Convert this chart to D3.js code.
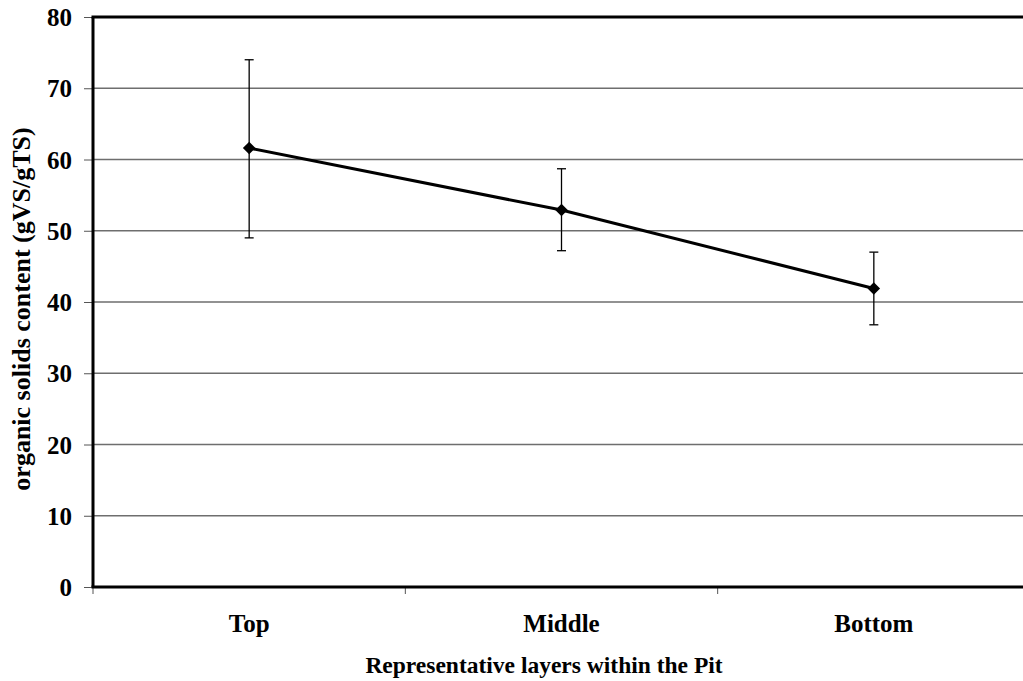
<!DOCTYPE html>
<html>
<head>
<meta charset="utf-8">
<script src="https://cdn.jsdelivr.net/npm/d3@7"></script>
<style>
  body { margin: 0; background: #fff; }
  text { font-family: "Liberation Serif", "Times New Roman", serif; font-weight: bold; fill: #000; }
</style>
</head>
<body>
<div id="viz"></div>
<script>
const layers = ['Top', 'Middle', 'Bottom'];
const means = [61.6, 52.9, 41.9];
const errHigh = [74.0, 58.7, 47.0];
const errLow = [49.0, 47.2, 36.8];
const yTicks = [0, 10, 20, 30, 40, 50, 60, 70, 80];

const W = 1023, H = 681;
const margin = { top: 17, right: -7, bottom: 94, left: 93 };
const width = W - margin.left - margin.right;
const height = H - margin.top - margin.bottom;

const svg = d3.select('#viz').append('svg')
  .attr('width', W).attr('height', H);
const g = svg.append('g').attr('transform', `translate(${margin.left},${margin.top})`);

const x = d3.scaleBand().domain(layers).range([0, width]);
const y = d3.scaleLinear().domain([0, 80]).range([height, 0]);

// gridlines
g.selectAll('line.grid')
  .data(yTicks.filter(d => d > 0 && d < 80))
  .join('line')
  .attr('class', 'grid')
  .attr('x1', 0).attr('x2', width)
  .attr('y1', d => y(d)).attr('y2', d => y(d))
  .attr('stroke', '#6e6e6e').attr('stroke-width', 1.3);

// y axis
const yAxis = g.append('g')
  .call(d3.axisLeft(y).tickValues(yTicks).tickSize(9).tickPadding(12));
yAxis.select('.domain').remove();
yAxis.selectAll('line').attr('stroke', '#555');
yAxis.selectAll('text').style('font-size', '25px').attr('dy', '0.34em');

// x axis
const xAxis = g.append('g')
  .attr('transform', `translate(0,${height})`)
  .call(d3.axisBottom(x).tickSize(0).tickPadding(0));
xAxis.select('.domain').remove();
xAxis.selectAll('text').style('font-size', '25px').attr('dy', null).attr('y', 45);
g.selectAll('line.xtick')
  .data(layers)
  .join('line')
  .attr('class', 'xtick')
  .attr('x1', d => x(d)).attr('x2', d => x(d))
  .attr('y1', height).attr('y2', height + 7)
  .attr('stroke', '#555');

// frame
g.append('line').attr('x1', 0).attr('x2', 0).attr('y1', 0).attr('y2', height)
  .attr('stroke', '#000').attr('stroke-width', 3);
g.append('line').attr('x1', -1.5).attr('x2', width).attr('y1', height).attr('y2', height)
  .attr('stroke', '#000').attr('stroke-width', 3);
g.append('line').attr('x1', -1.5).attr('x2', width).attr('y1', 0).attr('y2', 0)
  .attr('stroke', '#000').attr('stroke-width', 3);

const cx = d => x(d) + x.bandwidth() / 2;

// error bars
layers.forEach((d, i) => {
  g.append('line')
    .attr('x1', cx(d)).attr('x2', cx(d))
    .attr('y1', y(errHigh[i])).attr('y2', y(errLow[i]))
    .attr('stroke', '#000').attr('stroke-width', 1.3);
  [errHigh[i], errLow[i]].forEach(v => {
    g.append('line')
      .attr('x1', cx(d) - 4.5).attr('x2', cx(d) + 4.5)
      .attr('y1', y(v)).attr('y2', y(v))
      .attr('stroke', '#000').attr('stroke-width', 1.3);
  });
});

// line
g.append('path')
  .datum(layers.map((d, i) => [cx(d), y(means[i])]))
  .attr('d', d3.line())
  .attr('fill', 'none').attr('stroke', '#000').attr('stroke-width', 3);

// markers
g.selectAll('path.marker')
  .data(layers)
  .join('path')
  .attr('class', 'marker')
  .attr('transform', (d, i) => `translate(${cx(d)},${y(means[i])})`)
  .attr('d', d3.symbol().type(d3.symbolDiamond2).size(100))
  .attr('fill', '#000');

// axis titles
svg.append('text')
  .attr('x', 544).attr('y', 673)
  .attr('text-anchor', 'middle')
  .style('font-size', '23.5px')
  .text('Representative layers within the Pit');

svg.append('text')
  .attr('transform', `translate(30,309) rotate(-90)`)
  .attr('text-anchor', 'middle')
  .style('font-size', '26px')
  .text('organic solids content (gVS/gTS)');
</script>
</body>
</html>
